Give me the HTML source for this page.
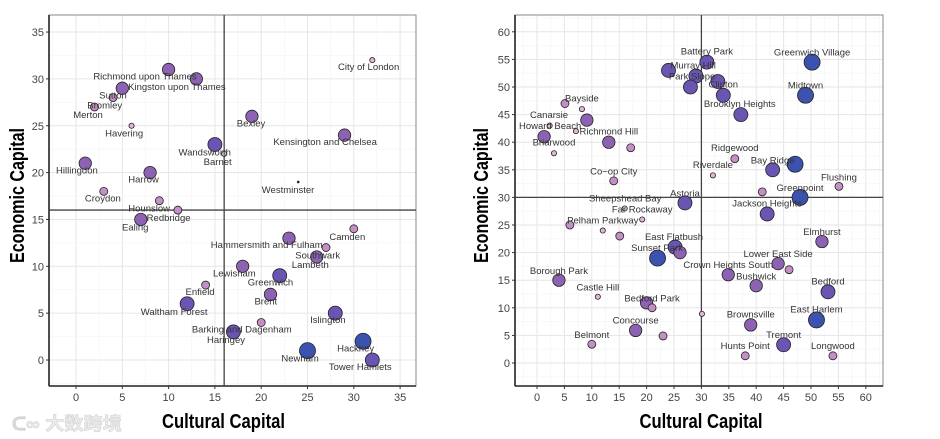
<!DOCTYPE html>
<html><head><meta charset="utf-8">
<style>
html,body{margin:0;padding:0;background:#fff;}
svg{display:block;}
.lbl{font-family:"Liberation Sans",sans-serif;font-size:9.5px;fill:#333;}
.tick{font-family:"Liberation Sans",sans-serif;font-size:11px;fill:#444;}
.title{font-family:"Liberation Sans Narrow","Liberation Sans",sans-serif;font-weight:bold;font-size:20px;fill:#000;}
</style></head>
<body>
<svg id="chart" width="940" height="439" viewBox="0 0 940 439">
<text x="12" y="430" font-family="'Liberation Sans','Noto Sans CJK SC',sans-serif" font-size="18" font-weight="bold" fill="#ececec" stroke="#d2d2d2" stroke-width="0.6" textLength="110" lengthAdjust="spacingAndGlyphs">ᑕ∞ 大数跨境</text>
</svg>
<script>
// ---------- London data ----------
const lonNames = ["Richmond upon Thames","Kingston upon Thames","Sutton","Bromley","Merton","Havering","Wandsworth","Barnet","Bexley","Kensington and Chelsea","City of London","Westminster","Hillingdon","Harrow","Croydon","Hounslow","Redbridge","Ealing","Camden","Hammersmith and Fulham","Southwark","Lambeth","Lewisham","Greenwich","Enfield","Brent","Waltham Forest","Islington","Barking and Dagenham","Haringey","Hackney","Newham","Tower Hamlets"];
const lonCultural = [10,13,5,2,4,6,15,16,19,29,32,24,1,8,3,9,11,7,30,23,27,26,18,22,14,21,12,28,20,17,31,25,32];
const lonEconomic = [31,30,29,27,28,25,23,22,26,24,32,19,21,20,18,17,16,15,14,13,12,11,10,9,8,7,6,5,4,3,2,1,0];
const lonSize = [3,3,3,2,2,1,4,1,3,3,1,0,3,3,2,2,2,3,2,3,2,3,3,4,2,3,4,4,2,4,5,5,4];
const lonLabelX = [7.45,10.9,4.0,3.1,1.3,5.2,13.9,15.3,18.9,26.9,31.6,22.9,0.1,7.3,2.9,7.9,10.0,6.4,29.3,20.6,26.1,25.3,17.1,21.0,13.4,20.5,10.6,27.2,17.9,16.2,30.2,24.2,30.7];
const lonLabelY = [30.3,29.2,28.3,27.2,26.2,24.2,22.2,21.2,25.3,23.3,31.3,18.2,20.3,19.3,17.3,16.2,15.2,14.2,13.2,12.3,11.2,10.2,9.3,8.3,7.3,6.3,5.2,4.3,3.3,2.2,1.3,0.2,-0.7];
const lonXTicks = [0,5,10,15,20,25,30,35];
const lonYTicks = [0,5,10,15,20,25,30,35];
const lonXRef = 16, lonYRef = 16;

// ---------- NYC data ----------
const nycNames = ["Battery Park","Greenwich Village","Murray Hill","Park Slope","Clinton","Midtown","Brooklyn Heights","Bayside","Canarsie","Howard Beach","Richmond Hill","Briarwood","Ridgewood","Riverdale","Bay Ridge","Flushing","Co\u2212op City","Greenpoint","Astoria","Sheepshead Bay","Far Rockaway","Jackson Heights","Pelham Parkway","East Flatbush","Sunset Park","Elmhurst","Lower East Side","Crown Heights South","Bushwick","Bedford","Borough Park","Castle Hill","Bedford Park","Brownsville","East Harlem","Concourse","Belmont","Tremont","Hunts Point","Longwood"];
const nycLabelX = [31,50.2,28.5,28.3,34,49,37,8.2,2.2,2.4,13.1,3.1,36.1,32.1,43,55.1,14,48,27,16.1,19.2,42,12,25,21.9,52,44,34.9,40,53.1,4,11.1,21,39,51,18,10,45,38,54];
const nycLabelY = [56.5,56.3,54,52,50.5,50.4,47,48,45,43,42,40,39,36,36.8,33.7,34.8,31.8,30.8,29.9,27.9,29,25.9,22.9,20.9,23.8,19.8,17.8,15.8,14.9,16.8,13.8,11.8,8.9,9.8,7.8,5.2,5.2,3.2,3.2];
const nycCultural = [31,50.2,24,29,33,49,37.2,5.1,8.2,9.1,2.3,7.1,1.3,3.1,13.1,17.1,36.1,32.1,43,47.1,55.1,14,48,41.1,27,16,42,19.2,6,12,15.1,25.2,26.1,22,52,44,46,34.9,40,53.1,4,11.1,20,21,30.1,39,51,18,23,10,45,38,54,28,34];
const nycEconomic = [54.5,54.5,53,52,51,48.5,45,47,46,44,43,42,41,38,40,39,37,34,35,36,32,33,30,31,29,28,27,26,25,24,23,21,20,19,22,18,16.9,16,14,12.9,15,12,10.9,10,8.9,6.9,7.8,5.9,4.9,3.4,3.3,1.3,1.3,50,48.5];
const nycSize = [4,5,4,4,4,5,4,2,1,3,1,1,3,1,3,2,2,1,4,5,2,2,5,2,4,1,4,1,2,1,2,4,3,5,3,3,2,3,3,4,3,1,3,2,1,3,5,3,2,2,4,2,2,4,4];
const nycXTicks = [0,5,10,15,20,25,30,35,40,45,50,55,60];
const nycYTicks = [0,5,10,15,20,25,30,35,40,45,50,55,60];
const nycXRef = 30, nycYRef = 30;

const fills = ["#222","#e3b5da","#c48ec6","#8d62b3","#6b55b2","#3b52ae"];
const radii = [1.3,2.6,4,6.2,7,8];
const NS = "http://www.w3.org/2000/svg";
const svg = document.getElementById('chart');
function mk(tag, attrs, parent){const e=document.createElementNS(NS,tag);for(const k in attrs)e.setAttribute(k,attrs[k]);(parent||svg).appendChild(e);return e;}

function drawChart(cfg){
  const sx = v => cfg.x0 + (v - cfg.xd0) * cfg.xs;
  const sy = v => cfg.y0 - (v - cfg.yd0) * cfg.ys;
  const g = mk('g',{});
  
  
  const step = cfg.xTicks[1]-cfg.xTicks[0];
  for (let v = cfg.xTicks[0]-step/2; v <= cfg.xTicks[cfg.xTicks.length-1]+step/2; v += step/2) {
    const X = sx(v); if (X < cfg.L || X > cfg.R) continue;
    const major = Math.abs(v/step - Math.round(v/step)) < 1e-6;
    const l = mk('line',{x1:X,x2:X,y1:cfg.T,y2:cfg.B,stroke:major?'#e6e6e6':'#f3f3f3','stroke-width':major?1:0.6},g);
    
    
  }
  for (let v = cfg.yTicks[0]-step/2; v <= cfg.yTicks[cfg.yTicks.length-1]+step/2; v += step/2) {
    const Y = sy(v); if (Y < cfg.T || Y > cfg.B) continue;
    const major = Math.abs(v/step - Math.round(v/step)) < 1e-6;
    const l = mk('line',{x1:cfg.L,x2:cfg.R,y1:Y,y2:Y,stroke:major?'#e6e6e6':'#f3f3f3','stroke-width':major?1:0.6},g);
    
    
  }
  const border = mk('rect',{x:cfg.L,y:cfg.T,width:cfg.R-cfg.L,height:cfg.B-cfg.T,fill:'none',stroke:'#888','stroke-width':1},g);
  
  
  mk('line',{x1:cfg.L,x2:cfg.L,y1:cfg.T,y2:cfg.B,stroke:'#222','stroke-width':1.6},g);
  mk('line',{x1:cfg.L,x2:cfg.R,y1:cfg.B,y2:cfg.B,stroke:'#222','stroke-width':1.6},g);
  cfg.xTicks.forEach(v => {
    mk('line',{x1:sx(v),x2:sx(v),y1:cfg.B,y2:cfg.B+3,stroke:'#333'},g);
    const t = mk('text',{x:sx(v),y:cfg.B+15,'text-anchor':'middle',class:'tick'},g);
    t.textContent = v;
    
    
  });
  cfg.yTicks.forEach(v => {
    mk('line',{x1:cfg.L-3,x2:cfg.L,y1:sy(v),y2:sy(v),stroke:'#333'},g);
    const t = mk('text',{x:cfg.L-5,y:sy(v)+4,'text-anchor':'end',class:'tick'},g);
    t.textContent = v;
    
    
  });
  const vr = mk('line',{x1:sx(cfg.xRef),x2:sx(cfg.xRef),y1:cfg.T,y2:cfg.B,stroke:'#444','stroke-width':1.3},g);
  
  
  const hr = mk('line',{x1:cfg.L,x2:cfg.R,y1:sy(cfg.yRef),y2:sy(cfg.yRef),stroke:'#444','stroke-width':1.3},g);
  
  
  cfg.px.forEach((v,i) => {
    const s = cfg.size[i];
    const c = mk('circle',{cx:sx(v),cy:sy(cfg.py[i]),r:radii[s],fill:fills[s],stroke:'#222','stroke-width':s?0.8:0},g);
    
    
  });
  cfg.names.forEach((n,i) => {
    const t = mk('text',{x:sx(cfg.lx[i]),y:sy(cfg.ly[i])+3.5,'text-anchor':'middle',class:'lbl'},g);
    t.textContent = n;
    
    
  });
  const xt = mk('text',{x:cfg.xtx,y:428,'text-anchor':'middle',class:'title',textLength:123,lengthAdjust:'spacingAndGlyphs'},g);
  xt.textContent = 'Cultural Capital';
  
  
  const ytx = cfg.ytx, yty = 195.5;
  const yt = mk('text',{x:ytx,y:yty,'text-anchor':'middle',class:'title',textLength:135,lengthAdjust:'spacingAndGlyphs',transform:`rotate(-90 ${ytx} ${yty})`},g);
  yt.textContent = 'Economic Capital';
  
  
}

drawChart({name:'london-chart',L:49,R:416,T:15,B:386,x0:76,xd0:0,xs:9.26,y0:360,yd0:0,ys:9.37,xtx:223.5,ytx:24,
  xTicks:lonXTicks,yTicks:lonYTicks,xRef:lonXRef,yRef:lonYRef,
  px:lonCultural,py:lonEconomic,size:lonSize,names:lonNames,lx:lonLabelX,ly:lonLabelY});
drawChart({name:'nyc-chart',L:515,R:883,T:15,B:386,x0:537,xd0:0,xs:5.48,y0:363,yd0:0,ys:5.52,xtx:701,ytx:488,
  xTicks:nycXTicks,yTicks:nycYTicks,xRef:nycXRef,yRef:nycYRef,
  px:nycCultural,py:nycEconomic,size:nycSize,names:nycNames,lx:nycLabelX,ly:nycLabelY});
</script>
</body></html>
